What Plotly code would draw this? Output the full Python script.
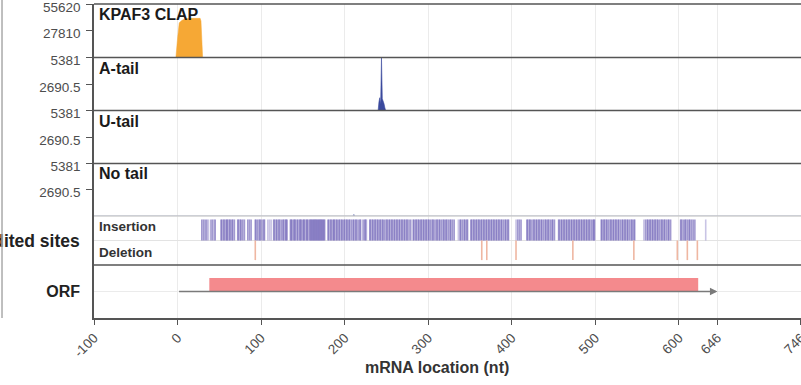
import plotly.graph_objects as go
from plotly.subplots import make_subplots

# ---------------- data ----------------
x_ticks = [-100, 0, 100, 200, 300, 400, 500, 600, 646, 746]
x_ticklabels = ["-100", "0", "100", "200", "300", "400", "500", "600", "646", "746"]

clap_x = [-100, -89, -88, -44, -43, -2, 0, 2, 5, 9, 15, 27, 28, 30, 746]
clap_y = [0, 0, 600, 600, 0, 0, 20000, 36000, 38500, 40300, 40700, 40700, 38000, 0, 0]
clap_max = 55620

atail_x = [-100, 240, 241, 242, 243, 244, 245, 246, 247, 248, 249, 746]
atail_y = [0, 0, 900, 1300, 600, 5381, 1200, 1000, 700, 300, 0, 0]

utail_x = [-100, 746]
utail_y = [0, 0]

notail_x = [-100, 210, 211, 212, 746]
notail_y = [0, 0, 150, 0, 0]
tail_max = 5381

insertion_sites = [
    29, 31, 33, 35, 40, 42, 45,
    52, 53, 55, 56, 58, 59, 60, 62, 63, 65, 66, 68,
    72, 73, 75, 76, 78, 80, 84, 86, 88,
    93, 94, 96, 98, 99, 101, 103, 104,
    115, 116, 118, 119, 121, 122, 124, 126, 127, 129, 130, 131,
    135, 136, 137, 139, 140, 141, 143, 144, 146, 147, 148, 150, 151, 152, 154, 155, 156,
    158, 159, 160, 161, 162, 163, 164, 165, 166, 167, 168, 169, 170, 171, 172, 173, 174,
    175, 176,
    180, 181, 183, 184, 186, 187, 188, 190, 191, 193, 194, 196, 197, 199, 200,
    202, 203, 205, 206, 208, 210, 211, 213, 214, 216, 218, 219, 222, 224, 225,
    230, 231, 233, 234, 236, 237, 239, 240, 242, 243, 245, 246, 248,
    250, 251, 253, 254, 256, 257, 259, 260, 262, 263, 265, 266, 268, 269, 271, 272, 274,
    275, 277, 279,
    282, 283, 285, 286, 288, 289, 291, 292, 294, 295, 297, 298, 300, 301, 303, 305, 306, 308,
    310, 311, 313, 314, 316, 318, 319, 321, 322, 324, 326, 327, 329, 331,
    338, 339, 341, 343, 344, 346, 347,
    351, 352, 354, 355, 357, 358, 360, 361, 363, 364, 366, 367, 369, 370, 372, 373, 375,
    376, 378, 379, 381, 382, 384, 385, 387, 388, 390, 392, 393, 395, 396,
    407, 409, 411,
    418, 419, 421, 422, 424, 426, 427, 429, 430, 432, 433, 435, 436, 438, 440, 441, 443,
    444, 446, 448, 449, 451,
    456, 457, 459, 460, 462, 463, 465, 466, 468, 469, 471, 472, 474, 475, 477, 478, 480,
    481, 483, 484, 486, 487, 489, 490, 492, 493, 495, 497, 498, 499,
    507, 508, 510, 511, 513, 514, 516, 518, 519, 521, 522, 524, 525, 527, 528, 530, 532,
    533, 535, 536, 538, 539, 541, 543, 544, 546, 547,
    560, 562, 563, 565, 566, 568, 569, 571, 572, 574, 575, 577, 579, 580, 582, 583, 585,
    587, 588, 590,
    602, 603, 605, 607, 608, 610, 612, 613, 615, 617, 619,
]
insertion_light = [37, 44, 108, 110, 112, 226, 336, 405, 558, 632]

deletion_sites = [93, 364, 370, 405, 473, 546, 598, 610, 622]

orf_start = 38
orf_end = 623
transcript_end = 646

panel_names = ["KPAF3 CLAP", "A-tail", "U-tail", "No tail"]

# ---------------- figure ----------------
FONT = "Liberation Sans, Arial, sans-serif"
fig = make_subplots(rows=6, cols=1, shared_xaxes=True, vertical_spacing=0)

fig.add_trace(go.Scatter(x=clap_x, y=clap_y, mode="lines", fill="tozeroy",
                         line=dict(color="#F6A835", width=0.5), fillcolor="#F6A835",
                         hoverinfo="skip"), row=1, col=1)
fig.add_trace(go.Scatter(x=atail_x, y=atail_y, mode="lines", fill="tozeroy",
                         line=dict(color="#3B4A9E", width=0.6), fillcolor="#3B4A9E",
                         hoverinfo="skip"), row=2, col=1)
fig.add_trace(go.Scatter(x=utail_x, y=utail_y, mode="lines", fill="tozeroy",
                         line=dict(color="#3B4A9E", width=0), hoverinfo="skip"), row=3, col=1)
fig.add_trace(go.Scatter(x=notail_x, y=notail_y, mode="lines", fill="tozeroy",
                         line=dict(color="#3B4A9E", width=0.6), fillcolor="#3B4A9E",
                         hoverinfo="skip"), row=4, col=1)


def segs(pos, y0, y1):
    xs, ys = [], []
    for p in pos:
        xs += [p, p, None]
        ys += [y0, y1, None]
    return xs, ys


xs, ys = segs(insertion_light, 0.5, 0.93)
fig.add_trace(go.Scatter(x=xs, y=ys, mode="lines",
                         line=dict(color="rgba(120,108,190,0.4)", width=1.6),
                         hoverinfo="skip"), row=5, col=1)
xs, ys = segs(insertion_sites, 0.5, 0.93)
fig.add_trace(go.Scatter(x=xs, y=ys, mode="lines",
                         line=dict(color="rgba(116,104,186,0.68)", width=1.6),
                         hoverinfo="skip"), row=5, col=1)
xs, ys = segs(deletion_sites, 0.1, 0.5)
fig.add_trace(go.Scatter(x=xs, y=ys, mode="lines",
                         line=dict(color="#EFB7A2", width=1.6),
                         hoverinfo="skip"), row=5, col=1)

fig.add_trace(go.Scatter(x=[orf_start, orf_end, orf_end, orf_start, orf_start],
                         y=[0.5, 0.5, 0.755, 0.755, 0.5], mode="lines", fill="toself",
                         fillcolor="#F48A8D", line=dict(width=0), hoverinfo="skip"),
              row=6, col=1)

# domains (pixel based: plot area y from 4 to 318)
domains = [[0.8296, 1.0], [0.6608, 0.8296], [0.4920, 0.6608],
           [0.3248, 0.4920], [0.1688, 0.3248], [0.0, 0.1688]]

for i in range(6):
    fig.update_yaxes(domain=domains[i], automargin=False, ticklabeloverflow="allow",
                     ticklabelstandoff=3, row=i + 1, col=1)
    fig.update_xaxes(range=[-100, 746.01], tickvals=x_ticks, showgrid=True,
                     gridcolor="#EBEBEB", gridwidth=1, zeroline=False, automargin=False,
                     ticklabeloverflow="allow",
                     showticklabels=(i == 5), row=i + 1, col=1)

fig.update_xaxes(ticktext=x_ticklabels, tickangle=-45, ticks="outside", ticklen=5,
                 tickcolor="#555", showline=True, linecolor="#555", linewidth=1.5,
                 tickfont=dict(size=13.5, color="#4D4D4D", family=FONT), row=6, col=1)

maxes = [clap_max, tail_max, tail_max, tail_max]
for i in range(4):
    m = maxes[i]
    mid = m / 2
    fig.update_yaxes(range=[0, m], tickvals=[mid, m],
                     ticktext=[f"{mid:g}", f"{m:g}"], ticks="outside", ticklen=6,
                     tickcolor="#555", showgrid=False, zeroline=False,
                     showline=True, linecolor="#555", linewidth=1.5, ticklabelshift=3,
                     tickfont=dict(size=13.5, color="#4D4D4D", family=FONT),
                     row=i + 1, col=1)

fig.update_yaxes(range=[0, 1], tickvals=[0.5], ticktext=["<b>Edited sites</b>"],
                 ticks="outside", ticklen=6, tickcolor="rgba(0,0,0,0)",
                 showgrid=True, gridcolor="#E3E3E3", zeroline=False,
                 showline=True, linecolor="#555", linewidth=1.5,
                 tickfont=dict(size=17.5, color="#222", family=FONT), row=5, col=1)
fig.update_yaxes(range=[0, 1], tickvals=[0.5], ticktext=["<b>ORF</b>"],
                 ticks="outside", ticklen=6, tickcolor="rgba(0,0,0,0)",
                 showgrid=True, gridcolor="#EBEBEB", zeroline=False,
                 showline=True, linecolor="#555", linewidth=1.5,
                 tickfont=dict(size=16, color="#222", family=FONT), row=6, col=1)

# panel separators
shapes = []
for yv, col in [(1.0, "#555"), (0.8296, "#555"), (0.6608, "#555"), (0.4920, "#555"),
                (0.3248, "#D0D0D0"), (0.1688, "#555")]:
    shapes.append(dict(type="line", xref="paper", yref="paper", x0=0, x1=1, y0=yv, y1=yv,
                       line=dict(color=col, width=1.5)))
shapes.append(dict(type="line", xref="paper", yref="paper", x0=-0.1301, x1=-0.1301,
                   y0=0, y1=1.0127, line=dict(color="#AAAAAA", width=1.5)))
fig.update_layout(shapes=shapes)

annotations = []
label_y = [0.968, 0.796, 0.627, 0.459]
for name, yv in zip(panel_names, label_y):
    annotations.append(dict(text=f"<b>{name}</b>", xref="paper", yref="paper", x=0.004, y=yv,
                            xanchor="left", yanchor="middle", showarrow=False,
                            font=dict(size=16, color="#1A1A1A", family=FONT)))
for name, yv in [("Insertion", 0.290), ("Deletion", 0.210)]:
    annotations.append(dict(text=f"<b>{name}</b>", xref="paper", yref="paper", x=0.004, y=yv,
                            xanchor="left", yanchor="middle", showarrow=False,
                            font=dict(size=13.5, color="#333", family=FONT)))
annotations.append(dict(text="<b>mRNA location (nt)</b>", xref="paper", yref="paper",
                        x=0.485, y=-0.159, xanchor="center", yanchor="middle",
                        showarrow=False, font=dict(size=16, color="#333", family=FONT)))
annotations.append(dict(x=transcript_end, y=0.5, ax=0, ay=0.5, xref="x6", yref="y6",
                        axref="x6", ayref="y6", text="", showarrow=True, arrowhead=2,
                        arrowsize=1, arrowwidth=1.5, arrowcolor="#7A7A7A"))
fig.update_layout(annotations=annotations)

fig.update_layout(width=801, height=385, margin=dict(l=94, r=0, t=4, b=67),
                  plot_bgcolor="white", paper_bgcolor="white", showlegend=False,
                  font=dict(family=FONT))

fig.write_html("out.html", config={"displayModeBar": False},
               post_script="document.body.style.margin='0';")
